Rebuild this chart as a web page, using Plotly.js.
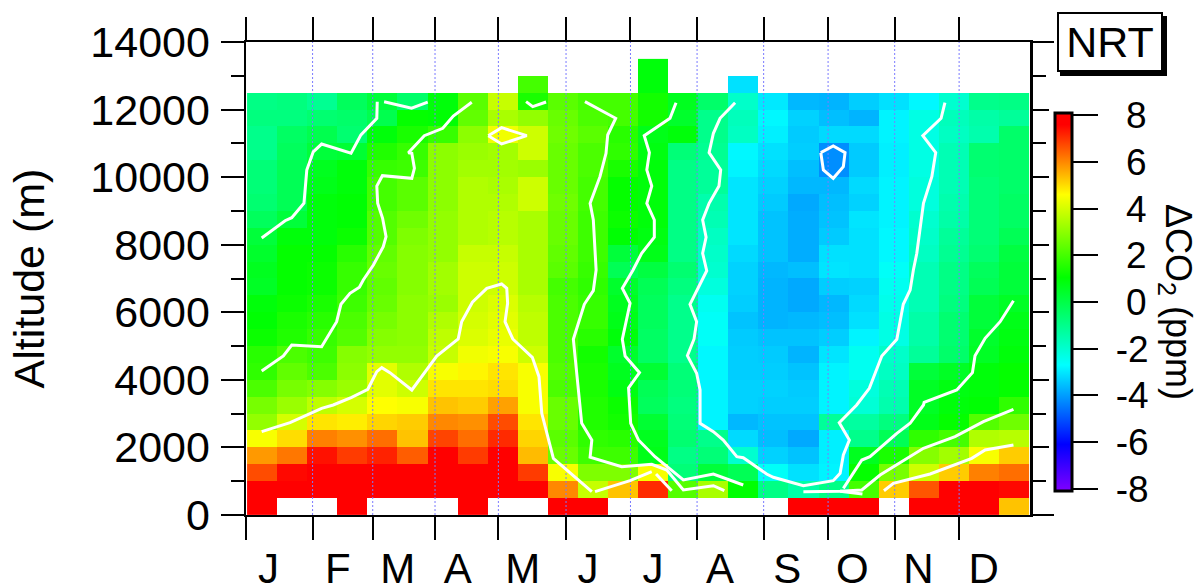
<!DOCTYPE html>
<html><head><meta charset="utf-8">
<script src="https://cdn.plot.ly/plotly-3.0.1.min.js"></script>
<style>html,body{margin:0;padding:0;background:#fff;overflow:hidden}#c{width:1199px;height:588px}</style>
</head><body><div id="c"></div>
<script>
const monthLabels=['J','F','M','A','M','J','J','A','S','O','N','D'];
const monthLabelDays=[10.5,42.7,70.6,98.6,128.9,159.2,189.5,220.7,252,282.3,313,343.4];
const monthStartDays=[0,31,59,88,117.5,149,179,210,241,271,302,332];
const altitudeBinCentres=[250,750,1250,1750,2250,2750,3250,3750,4250,4750,5250,5750,6250,6750,7250,7750,8250,8750,9250,9750,10250,10750,11250,11750,12250,12750,13250];
const dayBinCentres=[7.5,21.5,35.5,49.5,63.5,77.5,91.5,105.5,119.5,133.5,147.5,161.5,175.5,189.5,203.5,217.5,231.5,245.5,259.5,273.5,287.5,301.5,315.5,329.5,343.5,357.5];
// dCO2 (ppm) rows, lowest altitude first
const z00=[8,null,null,8,null,null,null,8,null,null,8,8,null,null,null,null,null,null,8,8,8,null,8,8,8,5.3];
const z01=[8,8,8,8,8,8,8,8,8,8,6.0,3.8,5.3,7.1,2.2,3.4,1.0,-0.9,-1.4,-0.9,2.0,5.2,6.6,8,8,7.5];
const z02=[6.7,7.5,8,8,8,8,8,8,8,6.9,4.5,2.8,2.8,4.5,-0.7,0.2,-0.2,-2.6,-3.1,-2.85,1.1,2.7,3.9,5.2,6.1,6.3];
const z03=[5.8,6.2,7.4,6.9,7.2,6.5,8,6.9,8,5.4,2.5,1.9,1.9,0.7,-0.9,-0.7,-2.0,-3.3,-3.5,-2.9,0.6,1.4,2.9,3.3,4.5,5.2];
const z04=[4.5,5.0,6.1,5.9,6.3,5.3,6.8,6.3,7.1,5.1,2.3,1.7,1.6,0.6,-0.6,-1.0,-3.2,-3.55,-3.85,-2.9,-1.0,-0.2,1.7,2.0,3.5,3.6];
const z05=[3.1,4.0,4.9,4.8,5.1,5.2,6.0,5.9,6.7,4.9,2.5,1.5,1.3,0.3,-0.7,-2.85,-3.65,-3.5,-3.5,-1.2,-1.3,-0.8,0.7,1.1,2.2,2.6];
const z06=[2.7,3.2,3.7,4.0,4.6,4.5,5.3,5.2,5.7,4.5,2.5,1.5,1.2,-0.3,-0.8,-2.85,-3.3,-3.35,-3.35,-2.85,-2.1,-1.5,0.5,0.9,1.0,1.7];
const z07=[2.1,2.7,2.9,3.2,4.2,3.9,4.9,4.9,5.0,4.5,2.1,1.4,0.8,-0.2,-0.7,-2.85,-3.3,-3.3,-3.4,-2.85,-2.2,-1.6,0.5,0.8,0.9,1.1];
const z08=[1.7,2.4,2.1,3.0,4.2,3.5,4.5,4.7,4.9,4.5,2.2,1.4,0.6,0.3,-0.7,-2.8,-3.35,-3.35,-3.5,-2.85,-2.5,-1.8,0.2,0.5,0.9,1.1];
const z09=[1.6,2.1,1.9,2.9,3.1,3.1,3.8,4.4,4.5,3.9,2.1,1.3,0.4,-0.4,-1.0,-2.8,-3.35,-3.4,-3.7,-3.05,-2.5,-1.9,-1.2,-0.5,0.5,0.9];
const z10=[1.2,1.5,1.8,2.2,2.9,3.0,3.7,4.1,4.3,3.7,2.1,1.6,0.9,-0.4,-1.0,-2.6,-3.4,-3.5,-3.5,-3.35,-2.85,-2.3,-1.4,-0.6,0.4,0.8];
const z11=[1.0,1.4,1.6,2.1,2.7,3.0,3.5,4.0,4.2,3.7,2.1,1.8,0.7,-0.3,-1.0,-2.6,-3.5,-3.7,-3.65,-3.55,-3.1,-2.3,-1.4,-0.6,0.2,0.7];
const z12=[0.9,1.2,1.4,1.9,2.5,3.0,3.2,3.9,4.1,3.6,2.1,1.8,0.6,-0.3,-1.0,-2.5,-3.35,-3.7,-3.85,-3.65,-3.2,-2.4,-1.6,-0.8,0.2,0.5];
const z13=[0.5,1.1,1.2,1.8,2.4,2.9,3.3,3.9,3.9,3.4,2.0,1.7,0.4,-0.2,-0.8,-2.2,-3.3,-3.7,-3.85,-3.35,-3.3,-2.5,-1.6,-0.9,-0.2,0.2];
const z14=[0.6,1.1,1.2,1.8,2.5,2.9,3.3,3.9,3.9,3.4,2.3,1.8,-0.2,0.1,-0.6,-2.0,-3.3,-3.65,-3.55,-3.05,-3.1,-2.6,-1.6,-0.9,-0.3,0.2];
const z15=[0.4,1.1,1.1,1.6,2.4,2.9,3.1,3.8,3.8,3.4,2.4,1.9,0.2,0.7,-0.9,-1.9,-3.2,-3.5,-3.8,-3.1,-3.1,-2.8,-1.8,-1.1,-0.6,0.1];
const z16=[0.2,0.9,0.9,1.2,2.2,2.8,3.1,3.5,3.6,3.4,2.5,1.9,1.0,0.8,-0.9,-1.8,-3.05,-3.5,-3.8,-3.4,-3.1,-2.8,-1.9,-1.2,-0.7,-0.2];
const z17=[-0.3,0.2,0.9,1.0,2.2,2.6,3.1,3.5,3.6,3.4,2.5,1.9,1.2,0.9,-0.9,-1.6,-3.05,-3.5,-3.8,-3.5,-3.05,-2.85,-2.0,-1.4,-0.7,-0.4];
const z18=[-0.6,-0.2,0.9,1.0,2.0,2.3,3.0,3.5,3.5,3.9,2.6,2.0,1.1,0.9,-0.9,-1.5,-3.05,-3.4,-3.85,-3.55,-3.3,-2.85,-2.2,-1.5,-0.7,-0.4];
const z19=[-0.7,-0.2,0.7,0.9,2.0,2.3,3.0,3.5,3.4,3.9,2.5,2.0,1.1,0.9,-0.9,-1.2,-3.05,-3.3,-3.65,-3.65,-3.2,-2.85,-2.2,-1.6,-0.7,-0.5];
const z20=[-0.7,-0.2,0.6,0.9,1.8,1.9,3.0,3.3,3.3,3.2,2.5,2.1,1.4,0.9,-0.9,-1.2,-2.85,-3.2,-3.55,-4.2,-3.4,-2.9,-2.3,-1.6,-0.6,-0.5];
const z21=[-1.0,-0.3,0.2,0.3,1.5,1.8,3.0,3.2,3.3,3.9,2.5,2.1,1.7,0.8,-0.7,-1.1,-2.8,-3.1,-3.35,-4.2,-3.4,-2.9,-2.3,-1.6,-0.6,-0.5];
const z22=[-1.0,-0.4,-0.1,-0.6,0.9,1.4,1.8,3.0,4.4,3.9,2.6,2.3,1.6,0.7,0.9,-1.0,-1.8,-2.9,-3.4,-3.2,-3.2,-2.85,-2.3,-1.8,-1.5,-0.5];
const z23=[-0.8,-0.8,-0.6,-0.5,-0.1,1.1,1.0,2.4,3.4,3.1,2.5,2.1,2.0,1.3,0.4,-1.0,-1.7,-2.8,-3.3,-3.55,-3.7,-2.85,-2.3,-1.7,-1.4,-1.2];
const z24=[-0.9,-0.8,-1.1,-0.3,0.2,-0.5,0.9,2.3,3.8,1.4,2.3,2.0,2.0,1.3,0.6,-0.5,-1.9,-3.0,-3.65,-3.7,-3.35,-3.1,-2.8,-2.0,-1.0,-0.9];
const z25=[null,null,null,null,null,null,null,null,null,2.0,null,null,null,0.9,null,null,-3.1,null,null,null,null,null,null,null,null,null];
const z26=[null,null,null,null,null,null,null,null,null,null,null,null,null,0.9,null,null,null,null,null,null,null,null,null,null,null,null];
const zRows=[z00,z01,z02,z03,z04,z05,z06,z07,z08,z09,z10,z11,z12,z13,z14,z15,z16,z17,z18,z19,z20,z21,z22,z23,z24,z25,z26];

const cbTickVals=[8,6,4,2,0,-2,-4,-6,-8];
const cbTickText=['\u00a0\u00a08','\u00a0\u00a06','\u00a0\u00a04','\u00a0\u00a02','\u00a0\u00a00','\u00a0-2','\u00a0-4','\u00a0-6','\u00a0-8'];
const altTicks=[0,2000,4000,6000,8000,10000,12000,14000];
const altTickText=['0','2000','4000','6000','8000','10000','12000','14000'];

// contour lines (day of year, altitude m)
const a1x=[7.3,18.2,21.3,27,28.3,31.3,35.2,48.9,53.5,60.9,61.1];
const a1y=[8200,8710,8800,9230,10210,10750,10980,10710,11250,11740,12230];
const a2x=[64.3,77.1,84.6];
const a2y=[12230,12040,12220];
const b1x=[7.3,17.4,21.3,35.2,42.2,44.2,48.4,52.8,54.6,59.3,63.9,65.2,63.6,61.3,60.9,63.5,77.2,78.4,77.2,75.6,83,91.6,96.5,105.1];
const b1y=[4262,4706,5032,4982,5722,6237,6562,6740,6956,7400,7942,8238,8782,9226,9738,10043,9966,10262,10706,10724,11227,11446,11810,12216];
const b2x=[130.4,133.5,139.7];
const b2y=[12234,12086,12225];
const b3x=[157.8,172.1,168.4,167.6,164.8,160.2,161.7,162.5,163,161.7,157.5,152.4,156.3,161,160.2,174.9,188.9,195.9,203.6,217.6,222.7];
const b3y=[12234,11742,11248,10706,10014,9226,8732,7646,7252,6639,6237,5201,2714,2220,1708,1430,1500,1332,740,867,719];
const c1x=[7.3,20.5,35.2,40.6,49.2,56.7,60.9,63.2,67,77.2,88.8,98.8,100.4,105.4,112.1,119,121.4,121.8,120.6,124.2,133.3,136.4,137.7,143.1,161];
const c1y=[2466,2732,3158,3256,3484,3721,4242,4360,4212,3700,4706,5210,5722,6296,6710,6838,6710,6266,5722,5210,4668,4094,3010,1678,690];
const c2x=[162.5,178.8,188.9];
const c2y=[690,1015,1282];
const c3x=[190.9,198.2];
const c3y=[1214,719];
const d1x=[200.2,197.4,185.4,187.8,186.6,188.9,186.6,190.1,190.1,184.2,180.2,175.2,178.8,175.2,176.5,183.2,178.1,179.1,182.7,190.4,203.6,217.6,231.5];
const d1y=[12204,11742,11227,10724,10212,9738,9226,8732,8220,7746,7252,6710,6266,5201,4706,4212,3759,2714,2220,1726,1036,1214,888];
const e1x=[227.7,220.7,217.6,215.6,221,220.2,215.6,212.6,214.2,212.6,214.5,206.7,209.8,208.6,205.5,209.8,211.4,211.4,217.6,222.2,228.5,231.5,242.4,245.5,259.5,273.4,276.6,278.1,280.9,276.2,284.3,290.2,296,303,306,309.2,310.7,312.3,315.4,319.3,321.1,315.1,323.6,325.4];
const e1y=[12204,11742,11298,10724,10212,9738,9226,8732,8220,7746,7231,6237,5722,5210,4715,4194,3700,2714,2466,2220,1726,1696,1214,1116,867,1015,1234,1776,2220,2732,3256,3750,4706,5201,6237,6660,7252,7746,9226,10014,10724,11227,11742,12204];
const f1x=[278.1,286.7,290.5,303,309.2,315.4,315.7,330.9,338.2,339.4,344.1,351.1,357.3];
const f1y=[790,1628,1726,2418,2714,3256,3336,3700,4212,4715,5230,5722,6343];
const g1x=[259.5,276.6,286.7,295.2,315.4,330.1,343.3,357.3];
const g1y=[690,700,740,1184,1974,2318,2762,3129];
const g2x=[276.6,287];
const g2y=[700,622];
const h1x=[297,301.4,318.5,337.9,344.1,357.3];
const h1y=[719,938,1214,1678,1924,2072];
const k1x=[112.8,119,130.7,119,112.8];
const k1y=[11227,11464,11227,10982,11227];
const m1x=[267.6,273.4,278.9,278.1,273.4,268.8,267.6];
const m1y=[10724,10922,10724,10310,9966,10212,10724];
const contourLines=[[a1x,a1y],[a2x,a2y],[b1x,b1y],[b2x,b2y],[b3x,b3y],[c1x,c1y],[c2x,c2y],[c3x,c3y],[d1x,d1y],[e1x,e1y],[f1x,f1y],[g1x,g1y],[g2x,g2y],[h1x,h1y],[k1x,k1y],[m1x,m1y]];

const FONT='"Liberation Sans", Arial, sans-serif';
const L=246,R=1030,T=42,B=515,W=R-L,H=B-T;
const zMin=-8.1,zMax=8.1;
const stop=v=>(v-zMin)/(zMax-zMin);
const colorscale=[[0,'#8000ff'],[stop(-6.1),'#0000ff'],[stop(-2.7),'#00ffff'],[stop(1.05),'#00ff00'],[stop(4.6),'#ffff00'],[stop(7.6),'#ff0000'],[1,'#ff0000']];

const gx=[],gy=[];
monthStartDays.slice(1).forEach(d=>{gx.push(d,d,null);gy.push(0,14000,null);});

const traces=[{type:'heatmap',x0:dayBinCentres[0],dx:14,y0:altitudeBinCentres[0],dy:500,z:zRows,
  zmin:zMin,zmax:zMax,colorscale,zsmooth:false,hoverongaps:false,xgap:0,ygap:0,
  colorbar:{x:(1054.5-L)/W,xanchor:'left',xpad:0,ypad:0,y:(B-302)/H,yanchor:'middle',
    len:378,lenmode:'pixels',thickness:17,thicknessmode:'pixels',outlinewidth:3,outlinecolor:'#000',
    ticks:'outside',ticklen:25,tickwidth:2,tickcolor:'#000',tickmode:'array',tickvals:cbTickVals,ticktext:cbTickText,
    tickfont:{family:FONT,size:37,color:'#000'}}},
 {type:'scatter',mode:'lines',x:gx,y:gy,xaxis:'x2',yaxis:'y2',hoverinfo:'skip',line:{color:'#7a7aff',width:1,dash:'2px,2px'},connectgaps:false,showlegend:false}];
contourLines.forEach(([x,y])=>traces.push({type:'scatter',mode:'lines',x,y,xaxis:'x2',yaxis:'y2',hoverinfo:'skip',
  line:{color:'#fff',width:3,shape:'linear'},showlegend:false}));

const layout={width:1199,height:588,paper_bgcolor:'#fff',plot_bgcolor:'#fff',showlegend:false,
 margin:{l:L,r:1199-R,t:T,b:588-B,pad:0},font:{family:FONT,color:'#000'},
 xaxis:{range:[0,365],showgrid:false,zeroline:false,showline:true,linewidth:2,linecolor:'#000',layer:'above traces',
   tickmode:'array',tickvals:monthLabelDays,ticktext:monthLabels,ticks:'outside',ticklen:16,tickcolor:'rgba(0,0,0,0)',tickwidth:2,
   tickangle:0,tickfont:{family:FONT,size:42,color:'#000'},
   minor:{tickmode:'array',tickvals:monthStartDays,ticks:'outside',ticklen:23,tickwidth:2,tickcolor:'#000',showgrid:false}},
 yaxis:{range:[0,14000],showgrid:false,zeroline:false,showline:true,linewidth:2.5,linecolor:'#000',layer:'above traces',
   tickmode:'array',tickvals:altTicks,ticktext:altTickText,ticks:'outside',ticklen:23,tickwidth:2,tickcolor:'#000',
   tickfont:{family:FONT,size:43,color:'#000'},ticklabelstandoff:2,
   title:{text:'Altitude (m)',font:{family:FONT,size:43,color:'#000'},standoff:33},
   minor:{dtick:1000,tick0:0,ticks:'outside',ticklen:13,tickwidth:2,tickcolor:'#000',showgrid:false}},
 xaxis2:{range:[0,365],overlaying:'x',side:'top',anchor:'y2',showgrid:false,zeroline:false,showline:true,linewidth:2,linecolor:'#000',layer:'above traces',
   tickmode:'array',tickvals:monthStartDays,ticktext:monthStartDays.map(()=>''),ticks:'outside',ticklen:23,tickwidth:2,tickcolor:'#000'},
 yaxis2:{range:[0,14000],overlaying:'y',side:'right',anchor:'x2',showgrid:false,zeroline:false,showline:true,linewidth:2.5,linecolor:'#000',layer:'above traces',
   tickmode:'array',tickvals:altTicks.slice(1,-1),ticktext:altTicks.slice(1,-1).map(()=>''),ticks:'outside',ticklen:16,tickwidth:2,tickcolor:'#000',
   minor:{dtick:1000,tick0:0,ticks:'outside',ticklen:13,tickwidth:2,tickcolor:'#000',showgrid:false}},
 shapes:[
  {type:'line',xref:'paper',yref:'paper',x0:1,x1:1+24/W,y0:0,y1:0,line:{color:'#000',width:2}},
  {type:'line',xref:'paper',yref:'paper',x0:1,x1:1+24/W,y0:1,y1:1,line:{color:'#000',width:2}},
  {type:'rect',xref:'paper',yref:'paper',x0:(1060-L)/W,x1:(1167-L)/W,y0:(B-76)/H,y1:(B-16)/H,fillcolor:'#000',line:{width:0}}
 ],
 annotations:[
  {xref:'paper',yref:'paper',x:(1109.5-L)/W,y:(B-42)/H,xanchor:'center',yanchor:'middle',text:'NRT',showarrow:false,
   font:{family:FONT,size:43,color:'#000'},bgcolor:'#fff',bordercolor:'#000',borderwidth:2,borderpad:0,width:102,height:56},
  {xref:'paper',yref:'paper',x:(1176-L)/W,y:(B-302)/H,xanchor:'center',yanchor:'middle',text:'ΔCO<sub>2</sub> (ppm)',textangle:90,showarrow:false,
   font:{family:FONT,size:36,color:'#000'}}]
};
Plotly.newPlot('c',traces,layout,{displayModeBar:false,responsive:false,staticPlot:true});
</script></body></html>
